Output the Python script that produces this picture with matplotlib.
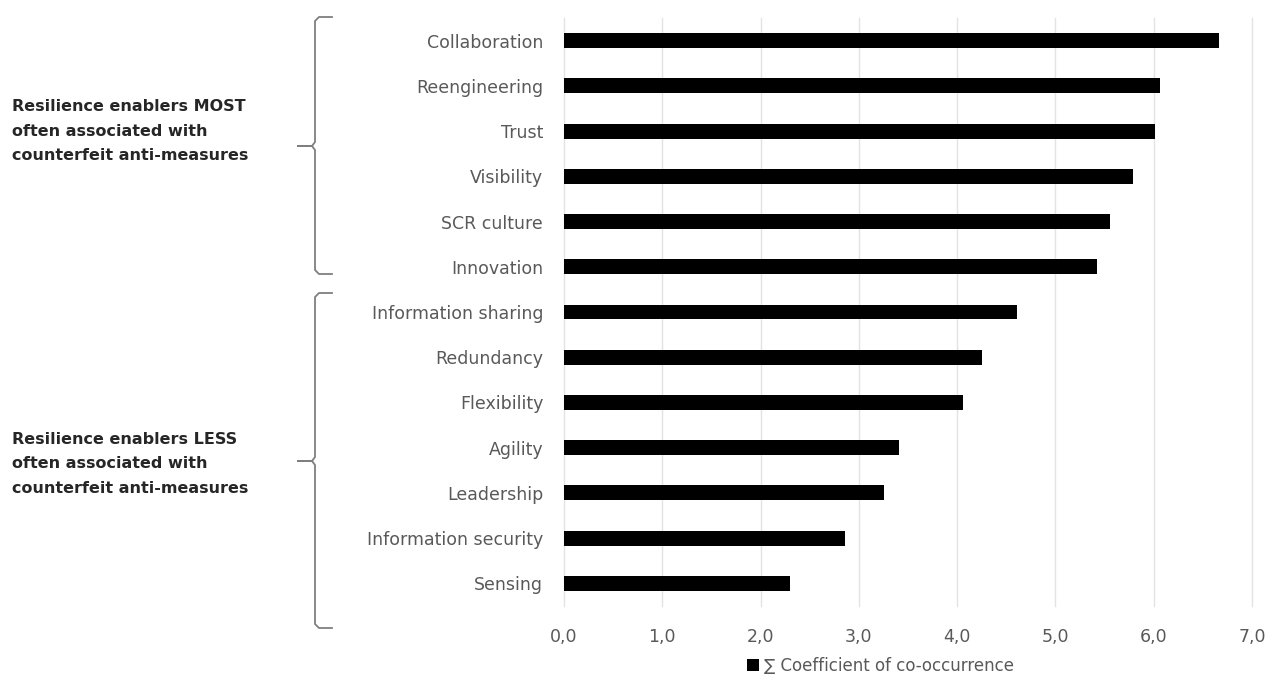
import matplotlib.pyplot as plt
from matplotlib.lines import Line2D

# enablers, top to bottom
enablers = ['Collaboration', 'Reengineering', 'Trust', 'Visibility', 'SCR culture',
            'Innovation', 'Information sharing', 'Redundancy', 'Flexibility',
            'Agility', 'Leadership', 'Information security', 'Sensing']
coeff = [6.66, 6.06, 6.01, 5.79, 5.56, 5.42, 4.61, 4.25, 4.06, 3.41, 3.26, 2.86, 2.30]
xticks = [0, 1, 2, 3, 4, 5, 6, 7]
xtick_labels = ['0,0', '1,0', '2,0', '3,0', '4,0', '5,0', '6,0', '7,0']
legend_label = '\u2211 Coefficient of co-occurrence'
group_most = 'Resilience enablers MOST\noften associated with\ncounterfeit anti-measures'
group_less = 'Resilience enablers LESS\noften associated with\ncounterfeit anti-measures'

W, H = 1274, 682
fig = plt.figure(figsize=(W / 100, H / 100), dpi=100)
ax = fig.add_axes([564 / W, 1 - 606 / H, 688 / W, 588 / H])

gray = '#595959'
ypos = list(range(len(enablers)))
ax.barh(ypos, coeff, height=0.33, color='black', label=legend_label, zorder=3)

ax.set_xlim(0, 7)
ax.set_ylim(len(enablers) - 0.5, -0.5)
ax.set_xticks(xticks)
ax.set_xticklabels(xtick_labels)
ax.set_yticks(ypos)
ax.set_yticklabels(enablers)
ax.tick_params(axis='both', length=0, colors=gray, labelsize=12.5)
ax.tick_params(axis='y', pad=15)
ax.tick_params(axis='x', pad=16)
for s in ax.spines.values():
    s.set_visible(False)
ax.grid(axis='x', color='#e3e3e3', linewidth=1, zorder=0)
for gl in ax.get_xgridlines():
    gl.set_clip_on(False)

leg = ax.legend(loc='upper center', bbox_to_anchor=(0.46, -0.075), frameon=False,
                handlelength=0.7, handleheight=0.7, handletextpad=0.3,
                fontsize=12, borderaxespad=0)
for t in leg.get_texts():
    t.set_color(gray)


def px(x, y):
    return x / W, 1 - y / H


def brace(top, mid, bottom):
    pts = [(332, top), (319, top), (315, top + 4), (315, mid - 4), (312, mid),
           (298, mid), (312, mid), (315, mid + 4), (315, bottom - 4),
           (319, bottom), (332, bottom)]
    xs = [px(a, b)[0] for a, b in pts]
    ys = [px(a, b)[1] for a, b in pts]
    fig.add_artist(Line2D(xs, ys, color='#7f7f7f', linewidth=1.3))


brace(17, 146, 274)
brace(293, 461, 628)

fig.text(*px(12, 131), group_most, ha='left', va='center', fontsize=11.5,
         fontweight='bold', color='#262626', linespacing=1.8)
fig.text(*px(12, 464), group_less, ha='left', va='center', fontsize=11.5,
         fontweight='bold', color='#262626', linespacing=1.8)

fig.savefig('out.png', dpi=100)
